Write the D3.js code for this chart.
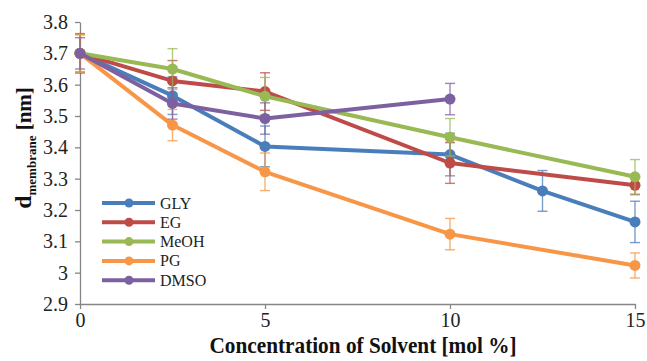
<!DOCTYPE html>
<html>
<head>
<meta charset="utf-8">
<script src="https://cdn.jsdelivr.net/npm/d3@7"></script>
<style>
  body { margin: 0; background: #fff; }
  svg text { font-family: "Liberation Serif", "Times New Roman", serif !important; }
</style>
</head>
<body>
<svg width="647" height="361"></svg>
<script>
// concentration values (mol %)
const xGLY = [0, 2.5, 5, 10, 12.5, 15];
const xEG = [0, 2.5, 5, 10, 15];
const xMeOH = [0, 2.5, 5, 10, 15];
const xPG = [0, 2.5, 5, 10, 15];
const xDMSO = [0, 2.5, 5, 10];

// membrane thickness (nm) and error
const yGLY = [3.70, 3.565, 3.403, 3.377, 3.261, 3.162];
const eGLY = [0.06, 0.06, 0.065, 0.068, 0.065, 0.066];
const yEG = [3.70, 3.612, 3.578, 3.35, 3.279];
const eEG = [0.063, 0.065, 0.06, 0.065, 0.03];
const yMeOH = [3.70, 3.65, 3.563, 3.432, 3.306];
const eMeOH = [0.06, 0.065, 0.06, 0.06, 0.055];
const yPG = [3.70, 3.471, 3.322, 3.123, 3.023];
const ePG = [0.06, 0.05, 0.06, 0.05, 0.04];
const yDMSO = [3.70, 3.54, 3.492, 3.554];
const eDMSO = [0.05, 0.05, 0.05, 0.05];

const yTicks = [2.9, 3, 3.1, 3.2, 3.3, 3.4, 3.5, 3.6, 3.7, 3.8];
const xTicks = [0, 5, 10, 15];

const series = [
    {name: "GLY", xs: xGLY, ys: yGLY, es: eGLY, color: "#4a7ebb"},
    {name: "EG", xs: xEG, ys: yEG, es: eEG, color: "#be4b48"},
    {name: "MeOH", xs: xMeOH, ys: yMeOH, es: eMeOH, color: "#98b954"},
    {name: "PG", xs: xPG, ys: yPG, es: ePG, color: "#f79646"},
    {name: "DMSO", xs: xDMSO, ys: yDMSO, es: eDMSO, color: "#7d60a0"}
];

const svg = d3.select("svg");

const x = d3.scaleLinear().domain([0, 15]).range([80, 635]);
const y = d3.scaleLinear().domain([2.9, 3.8]).range([304, 22]);

// axes
const yAxis = svg.append("g")
    .attr("transform", "translate(80,0)")
    .call(d3.axisLeft(y).tickValues(yTicks).tickSize(5).tickSizeOuter(0)
        .tickFormat(d => d3.format("")(+d.toFixed(1))));
const xAxis = svg.append("g")
    .attr("transform", "translate(0,304)")
    .call(d3.axisBottom(x).tickValues(xTicks).tickSize(5).tickSizeOuter(0));

[yAxis, xAxis].forEach(g => {
    g.attr("font-family", null);
    g.select(".domain").attr("stroke", "#868686").attr("stroke-width", 1.3);
    g.selectAll(".tick line").attr("stroke", "#868686").attr("stroke-width", 1.3);
    g.selectAll("text")
        .style("font-size", "20px")
        .attr("fill", "#222");
});
yAxis.selectAll("text").attr("x", -12);
xAxis.selectAll("text").attr("y", 9);

// series
const line = d3.line().x(d => x(d[0])).y(d => y(d[1]));

series.forEach(s => {
    const pts = s.xs.map((v, i) => [v, s.ys[i], s.es[i]]);
    const g = svg.append("g");

    const eb = g.selectAll(".eb").data(pts).enter().append("g")
        .attr("stroke", s.color).attr("stroke-opacity", 0.75).attr("stroke-width", 1.4);
    eb.append("line")
        .attr("x1", d => x(d[0])).attr("x2", d => x(d[0]))
        .attr("y1", d => y(d[1] - d[2])).attr("y2", d => y(d[1] + d[2]));
    eb.append("line")
        .attr("x1", d => x(d[0]) - 5).attr("x2", d => x(d[0]) + 5)
        .attr("y1", d => y(d[1] + d[2])).attr("y2", d => y(d[1] + d[2]));
    eb.append("line")
        .attr("x1", d => x(d[0]) - 5).attr("x2", d => x(d[0]) + 5)
        .attr("y1", d => y(d[1] - d[2])).attr("y2", d => y(d[1] - d[2]));

    g.append("path")
        .datum(pts)
        .attr("d", line)
        .attr("fill", "none")
        .attr("stroke", s.color)
        .attr("stroke-width", 4)
        .attr("stroke-linejoin", "round");

    g.selectAll("circle").data(pts).enter().append("circle")
        .attr("cx", d => x(d[0]))
        .attr("cy", d => y(d[1]))
        .attr("r", 5.5)
        .attr("fill", s.color);
});

// legend
const legend = svg.append("g");
series.forEach((s, i) => {
    const ly = 203 + i * 19.3;
    legend.append("line")
        .attr("x1", 102).attr("x2", 155)
        .attr("y1", ly).attr("y2", ly)
        .attr("stroke", s.color).attr("stroke-width", 4);
    legend.append("circle")
        .attr("cx", 129).attr("cy", ly).attr("r", 4.5).attr("fill", s.color);
    legend.append("text")
        .attr("x", 160).attr("y", ly + 5.5)
        .style("font-size", "16px")
        .attr("fill", "#222")
        .text(s.name);
});

// axis titles
svg.append("text")
    .attr("x", 363).attr("y", 353)
    .attr("text-anchor", "middle")
    .attr("textLength", 307)
    .attr("lengthAdjust", "spacingAndGlyphs")
    .style("font-size", "23px")
    .attr("font-weight", "bold")
    .attr("fill", "#111")
    .text("Concentration of Solvent [mol %]");

const yl = svg.append("text")
    .attr("transform", "translate(31,148) rotate(-90)")
    .attr("text-anchor", "middle")
    .attr("font-weight", "bold")
    .attr("fill", "#111");
yl.append("tspan").style("font-size", "24px").text("d");
yl.append("tspan").style("font-size", "13px").attr("dy", 5).text("membrane");
yl.append("tspan").style("font-size", "21px").attr("dy", -5).text(" [nm]");
</script>
</body>
</html>
